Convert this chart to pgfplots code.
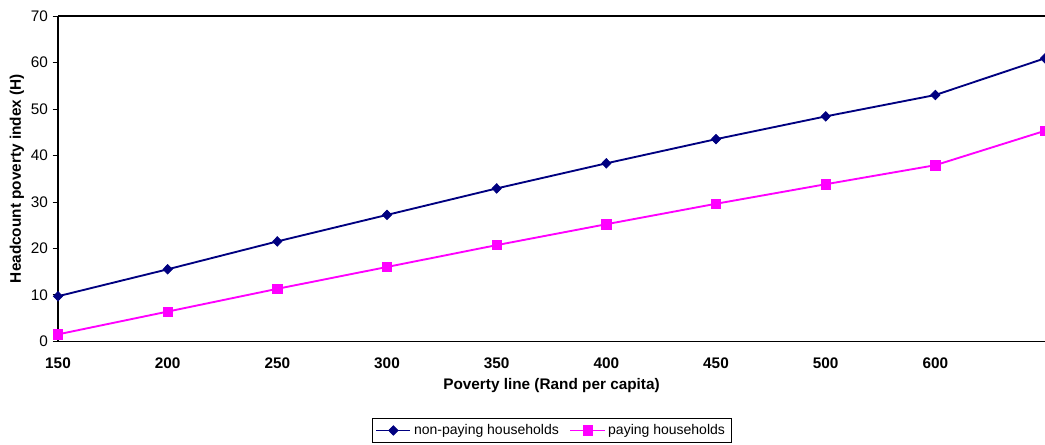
\documentclass[border=0pt]{standalone}
\usepackage{pgfplots}
\pgfplotsset{compat=1.18}
\usepackage{fontspec}
\setmainfont{Liberation Sans}
\definecolor{navyc}{RGB}{0,0,128}
\definecolor{magc}{RGB}{255,0,255}
\begin{document}
\begin{tikzpicture}
\path[use as bounding box] (-43.5pt,-77.25pt) rectangle (740.25pt,256pt);
\begin{axis}[
  name=ax,
  at={(0,0)}, anchor=south west,
  scale only axis,
  width=740.25pt, height=244pt,
  xmin=0, xmax=9, ymin=0, ymax=70,
  axis x line*=bottom, axis y line*=left,
  axis line style={black, line width=1pt},
  xtick={0,1,2,3,4,5,6,7,8},
  xticklabels={150,200,250,300,350,400,450,500,600},
  x tick label style={font=\fontsize{11.5}{13}\selectfont\bfseries, yshift=-5pt},
  x tick style={draw=none},
  ytick={0,10,20,30,40,50,60,70},
  y tick label style={font=\fontsize{11.5}{13}\selectfont},
  /pgf/number format/assume math mode=true,
  tick align=outside, major tick length=4pt,
  y tick style={black, line width=0.6pt},
  extra y ticks={70}, extra y tick labels={},
  extra y tick style={grid=major, major grid style={black, line width=1pt}, major tick length=0pt},
  xlabel={\bfseries Poverty line (Rand per capita)},
  ylabel={\bfseries Headcount poverty index (H)},
  label style={font=\fontsize{11.5}{13}\selectfont},
  xlabel style={at={(axis description cs:0.5,-0.135)}, anchor=center},
  ylabel style={at={(axis description cs:-0.0415,0.5)}, anchor=center, rotate=0},
  legend style={at={(0.5,-0.274)}, anchor=center, draw=black, line width=0.5pt,
    font=\fontsize{10.5}{12}\selectfont, legend columns=2,
    /tikz/every even column/.append style={column sep=6pt}, inner sep=2.5pt},
  legend image code/.code={%
    \draw[mark repeat=2,mark phase=2] plot coordinates {(0cm,0cm) (0.45cm,0cm) (0.9cm,0cm)};},
  clip=false,
]
\addplot[color=navyc, line width=1.4pt, mark=diamond*, mark size=3.6pt, mark options={fill=navyc, line width=0.5pt, xscale=1.3}]
  coordinates {(0,9.7) (1,15.5) (2,21.5) (3,27.2) (4,32.9) (5,38.3) (6,43.5) (7,48.4) (8,53.0) (9,60.9)};
\addlegendentry{non-paying households}
\addplot[color=magc, line width=1.4pt, mark=square*, mark size=3.5pt, mark options={fill=magc, line width=0.5pt}]
  coordinates {(0,1.5) (1,6.4) (2,11.3) (3,16.0) (4,20.7) (5,25.2) (6,29.6) (7,33.8) (8,37.9) (9,45.3)};
\addlegendentry{paying households}
\end{axis}
\end{tikzpicture}
\end{document}
